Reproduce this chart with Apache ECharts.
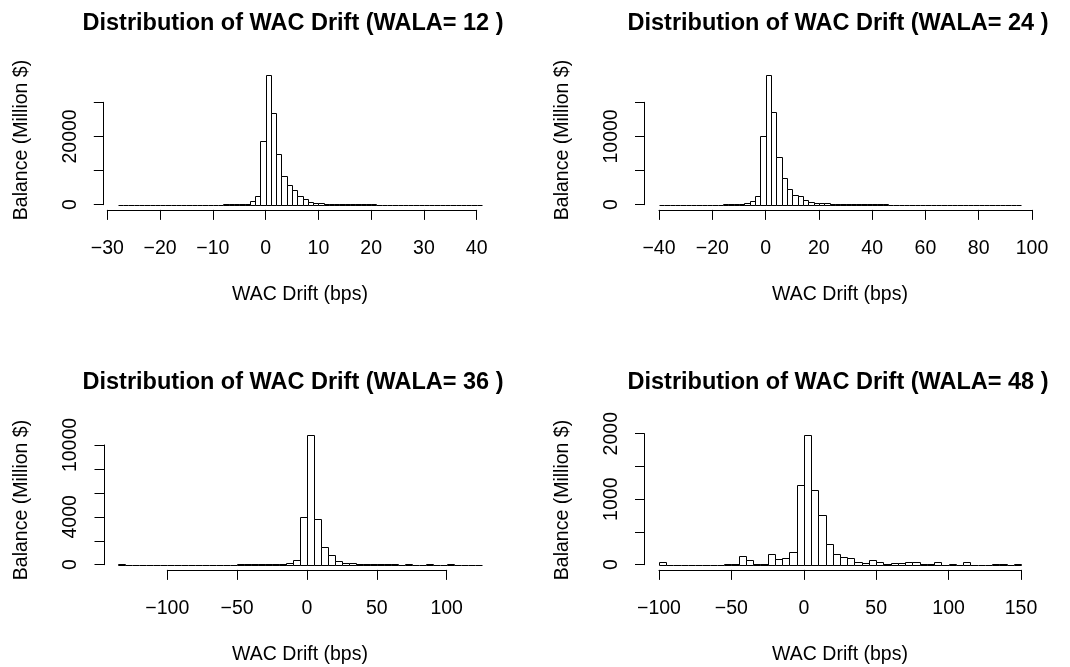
<!DOCTYPE html>
<html><head><meta charset="utf-8">
<script src="https://cdn.jsdelivr.net/npm/echarts@6/dist/echarts.min.js"></script>
<style>html,body{margin:0;padding:0;background:#fff}#c{width:1070px;height:667px}</style>
</head><body><div id="c"></div>
<script>
// ---------- DATA ----------
// WALA = 12 : bins of 1 bps starting at -28
const wala12Start = -28, wala12BinWidth = 1;
const wala12Values = [
  0,0,0,0,0,0,0,10,0,0,0,0,0,20,0,0,10,20,
  40,50,60,90,120,180,350,1000,2500,18700,37900,26900,14900,8300,5800,4400,2450,1600,900,600,400,300,250,200,150,120,100,80,70,90,60,
  40,30,30,20,20,20,20,10,10,10,10,10,10,10,10,10,10,10,10,10
];
const wala12XTicks = [-30,-20,-10,0,10,20,30,40];
const wala12YTicks = [0,10000,20000,30000];
const wala12YLabels = ['0','','20000',''];

// WALA = 24 : bins of 2 bps starting at -40
const wala24Start = -40, wala24BinWidth = 2;
const wala24Values = [
  10,0,0,0,0,0,0,0,10,10,20,20,30,40,60,
  150,250,500,1230,10100,19000,13600,7000,3960,2350,1420,1230,650,400,290,250,180,150,120,100,90,80,70,60,50,40,
  30,30,20,20,20,20,10,10,10,10,10,10,10,10,10,10,10,10,10,10,10,10,10,10,10,10,10
];
const wala24XTicks = [-40,-20,0,20,40,60,80,100];
const wala24YTicks = [0,5000,10000,15000];
const wala24YLabels = ['0','','10000',''];

// WALA = 36 : bins of 5 bps starting at -135
const wala36Start = -135, wala36BinWidth = 5;
const wala36Values = [
  20,10,10,10,0,0,0,0,0,0,0,0,0,0,10,10,10,20,20,20,30,40,50,
  80,170,370,3960,10830,3840,1480,835,280,140,115,60,40,30,20,60,20,10,20,10,10,20,10,10,20,10,10,10,10
];
const wala36XTicks = [-100,-50,0,50,100];
const wala36YTicks = [0,2000,4000,6000,8000,10000];
const wala36YLabels = ['0','','4000','','','10000'];

// WALA = 48 : bins of 5 bps starting at -100
const wala48Start = -100, wala48BinWidth = 5;
const wala48Values = [
  46,0,0,0,0,0,0,0,0,
  10,5,137,66,15,5,168,92,107,198,1211,1980,1145,753,321,168,122,97,46,20,66,36,15,30,25,46,36,10,15,41,0,10,0,41,0,0,0,5,8,0,8
];
const wala48XTicks = [-100,-50,0,50,100,150];
const wala48YTicks = [0,500,1000,1500,2000];
const wala48YLabels = ['0','','1000','','2000'];

const walaNames = ['12','24','36','48'];

// ---------- LAYOUT ----------
const FONT = '"Liberation Sans", Arial, Helvetica, sans-serif';
const panels = [
  {wala: walaNames[0], start: wala12Start, bw: wala12BinWidth, values: wala12Values, xt: wala12XTicks, yt: wala12YTicks, yl: wala12YLabels,
   grid: {left: 107.3, top: 102.3, width: 369.4, height: 102.4}, yOff: 4,
   title: [293, 24], xName: [300, 295], yName: [21.5, 140]},
  {wala: walaNames[1], start: wala24Start, bw: wala24BinWidth, values: wala24Values, xt: wala24XTicks, yt: wala24YTicks, yl: wala24YLabels,
   grid: {left: 659, top: 102.3, width: 373, height: 102.4}, yOff: 14.5,
   title: [838, 24], xName: [840, 295], yName: [562.5, 140]},
  {wala: walaNames[2], start: wala36Start, bw: wala36BinWidth, values: wala36Values, xt: wala36XTicks, yt: wala36YTicks, yl: wala36YLabels,
   grid: {left: 167.3, top: 445, width: 279.4, height: 119.7}, yOff: 63.3,
   title: [293, 383], xName: [300, 655], yName: [21.5, 500]},
  {wala: walaNames[3], start: wala48Start, bw: wala48BinWidth, values: wala48Values, xt: wala48XTicks, yt: wala48YTicks, yl: wala48YLabels,
   grid: {left: 659, top: 433.7, width: 362, height: 131}, yOff: 14.5,
   title: [838, 383], xName: [840, 655], yName: [562.5, 500]}
];

function renderBar(params, api) {
  const x0 = api.value(0), x1 = api.value(1), v = api.value(2);
  const p0 = api.coord([x0, v]);
  const p1 = api.coord([x1, 0]);
  const l = Math.round(p0[0]) + 0.5, r = Math.round(p1[0]) + 0.5;
  const t = Math.round(p0[1]) + 0.5, b = Math.round(p1[1]) + 0.5;
  if (b - t < 0.5) {
    return {type: 'line', shape: {x1: l, y1: b, x2: r, y2: b},
            style: {stroke: '#000', lineWidth: 1}};
  }
  return {type: 'rect', shape: {x: l, y: t, width: r - l, height: b - t},
          style: {fill: '#fff', stroke: '#000', lineWidth: 1}};
}

const minus = s => String(s).replace('-', '\u2212');
const option = {animation: false, backgroundColor: '#fff', grid: [], xAxis: [], yAxis: [], series: [], graphic: []};

panels.forEach((p, k) => {
  option.grid.push(Object.assign({containLabel: false}, p.grid));
  option.xAxis.push({
    type: 'value', gridIndex: k, min: p.xt[0], max: p.xt[p.xt.length - 1], interval: p.xt[1] - p.xt[0],
    position: 'bottom', offset: 5.2, splitLine: {show: false},
    axisLine: {show: true, onZero: false, lineStyle: {color: '#000', width: 1}},
    axisTick: {show: true, length: 10, lineStyle: {color: '#000', width: 1}},
    axisLabel: {show: true, color: '#000', fontFamily: FONT, fontSize: 19.5, margin: 29,
      formatter: v => minus(v)}
  });
  option.yAxis.push({
    type: 'value', gridIndex: k, min: p.yt[0], max: p.yt[p.yt.length - 1], interval: p.yt[1] - p.yt[0],
    position: 'left', offset: p.yOff, splitLine: {show: false},
    axisLine: {show: true, onZero: false, lineStyle: {color: '#000', width: 1}},
    axisTick: {show: true, length: 9.5, lineStyle: {color: '#000', width: 1}},
    axisLabel: {show: true, color: '#000', fontFamily: FONT, fontSize: 19.5, margin: 23, rotate: 90,
      formatter: v => { const i = p.yt.indexOf(v); return i >= 0 ? p.yl[i] : ''; }}
  });
  option.series.push({
    type: 'custom', xAxisIndex: k, yAxisIndex: k, clip: false,
    encode: {x: [0, 1], y: 2},
    data: p.values.map((v, i) => [p.start + i * p.bw, p.start + (i + 1) * p.bw, v]),
    renderItem: renderBar
  });
  option.graphic.push(
    {type: 'text', x: p.title[0], y: p.title[1],
     style: {text: 'Distribution of WAC Drift (WALA= ' + p.wala + ' )', fill: '#000',
             font: 'bold 23.5px ' + FONT, align: 'center', verticalAlign: 'middle',
             textAlign: 'center', textVerticalAlign: 'middle'}},
    {type: 'text', x: p.xName[0], y: p.xName[1],
     style: {text: 'WAC Drift (bps)', fill: '#000', font: '19.5px ' + FONT,
             align: 'center', verticalAlign: 'middle', textAlign: 'center', textVerticalAlign: 'middle'}},
    {type: 'text', x: p.yName[0], y: p.yName[1], rotation: Math.PI / 2,
     style: {text: 'Balance (Million $)', fill: '#000', font: '19.5px ' + FONT,
             align: 'center', verticalAlign: 'middle', textAlign: 'center', textVerticalAlign: 'middle'}}
  );
});

const chart = echarts.init(document.getElementById('c'), null, {renderer: 'canvas'});
chart.setOption(option);
</script>
</body></html>
